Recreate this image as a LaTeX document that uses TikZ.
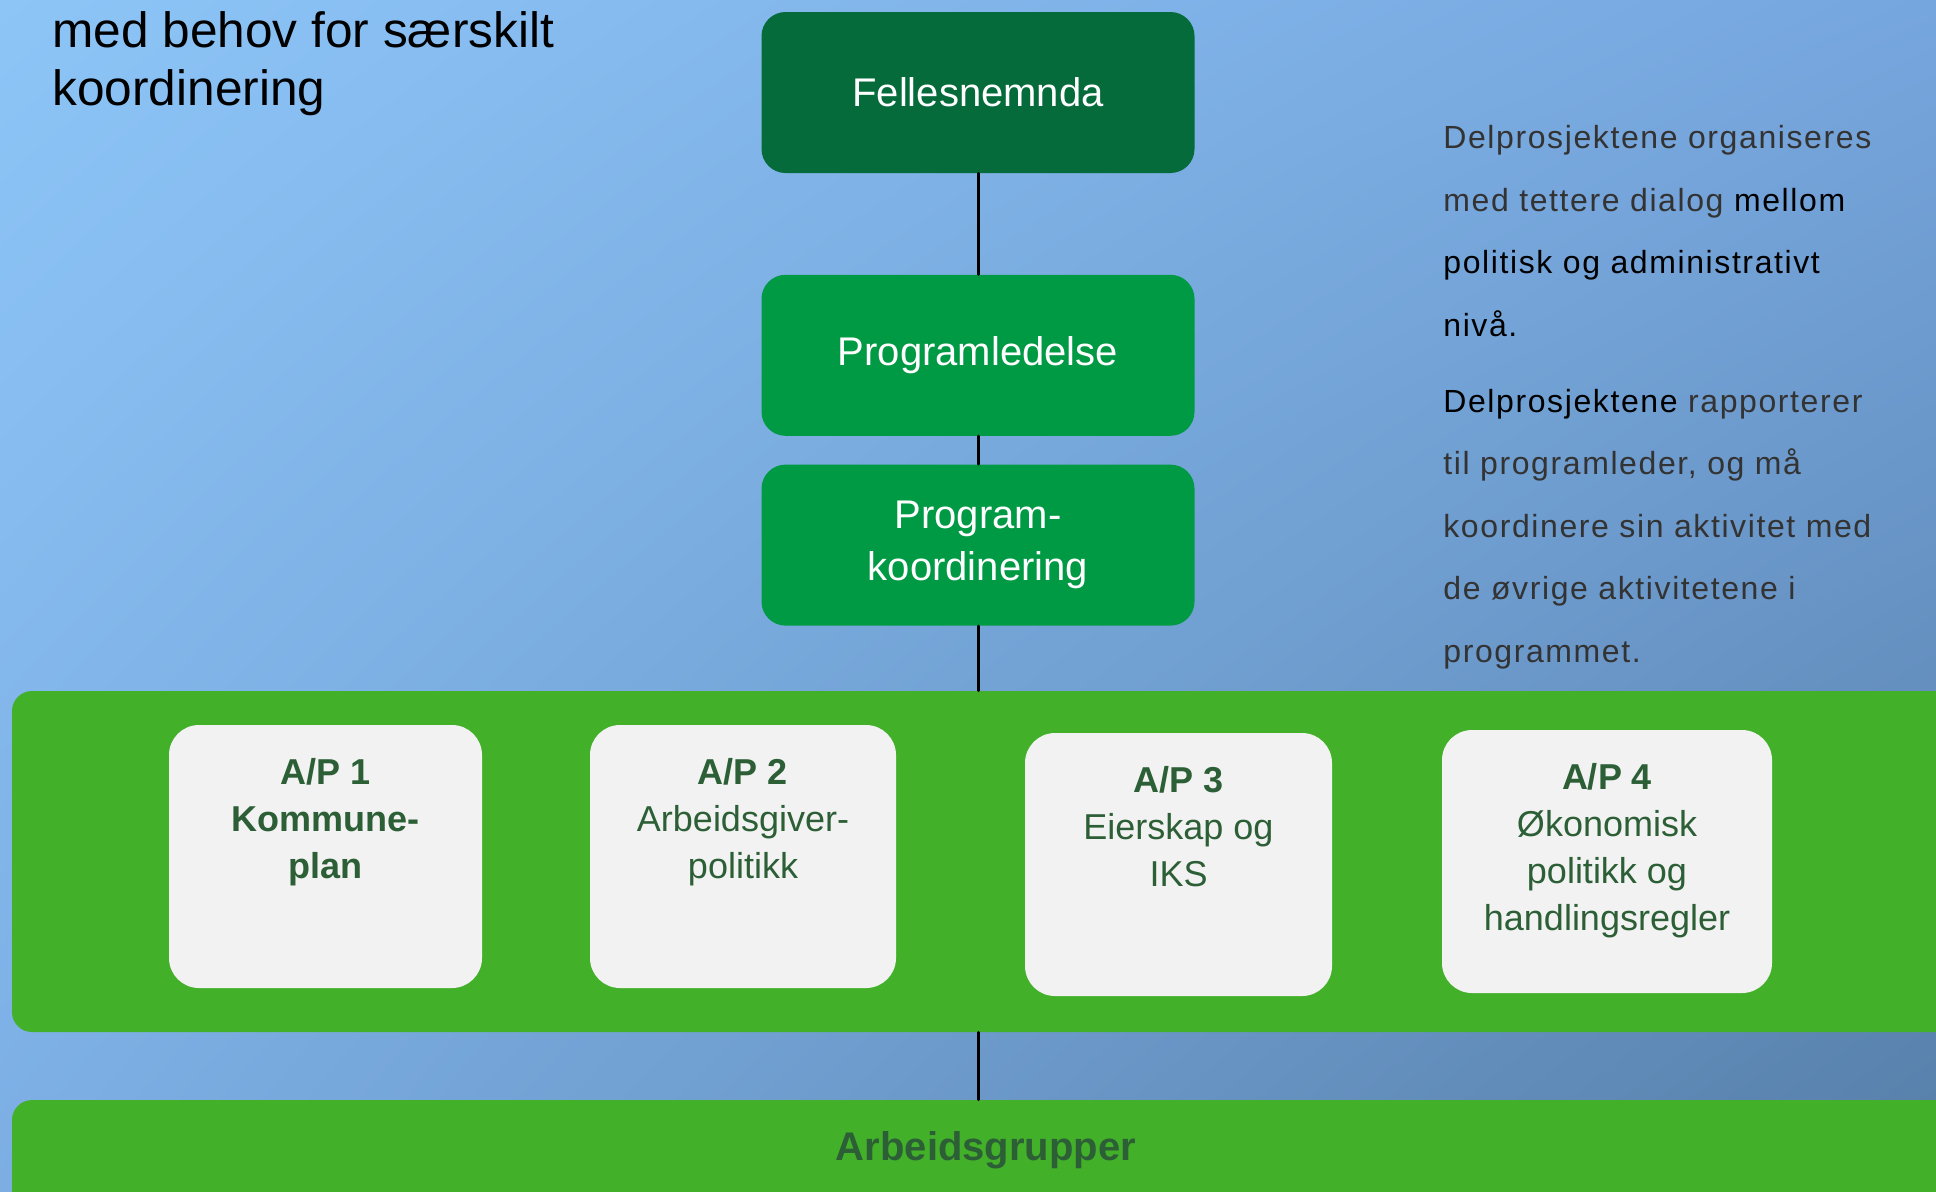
\documentclass[tikz,border=0pt]{standalone}
\usepackage{fontspec}
\setmainfont{Liberation Sans}
\newfontfamily\notefont[LetterSpace=5]{Liberation Sans}
\usetikzlibrary{positioning,shadings}
\definecolor{bgtl}{RGB}{141,197,247}
\definecolor{bgtr}{RGB}{118,166,222}
\definecolor{bgbl}{RGB}{124,174,228}
\definecolor{bgbr}{RGB}{86,126,168}
\definecolor{fellgreen}{RGB}{5,107,58}
\definecolor{ledgreen}{RGB}{0,154,68}
\definecolor{bandgreen}{RGB}{67,176,42}
\definecolor{boxgrey}{RGB}{242,242,242}
\definecolor{aptext}{RGB}{45,95,55}
\definecolor{notegrey}{RGB}{51,51,51}
\begin{document}
\begin{tikzpicture}[x=0.5pt,y=-0.5pt,line cap=round,
  leadbox/.style={rounded corners=12pt,minimum width=216.5pt,minimum height=80.5pt,
    inner sep=0pt,text=white,align=center,font=\fontsize{20}{26}\selectfont},
  apbox/.style={fill=boxgrey,rounded corners=15pt,inner sep=0pt,text=aptext,
    font=\fontsize{18}{23.5}\selectfont},
  band/.style={fill=bandgreen,rounded corners=10pt,minimum width=974pt,inner sep=0pt},
  link/.style={line width=1.5pt}]
  \useasboundingbox (0,0) rectangle (1936,1191);
  \clip (0,0) rectangle (1936,1191);
  \shade[upper left=bgtl,upper right=bgtr,lower left=bgbl,lower right=bgbr]
    (0,0) rectangle (1936,1191);
  % heading, top left
  \node[anchor=north west,inner sep=0pt,align=left,font=\fontsize{24.8}{29}\selectfont]
    (head) at (52,11) {med behov for særskilt\\koordinering};
  % leadership column
  \node[leadbox,fill=fellgreen] (fell) at (978,92.5) {Fellesnemnda};
  \node[leadbox,fill=ledgreen,below=50.5pt of fell] (ledelse) {Programledelse};
  \node[leadbox,fill=ledgreen,below=14pt of ledelse] (koord) {Program-\\koordinering};
  % note on the right
  \node[anchor=north west,inner sep=0pt,align=left,text=notegrey,
    font=\notefont\fontsize{16}{31.25}\selectfont] (note) at (1443,125)
    {Delprosjektene organiseres\\
     med tettere dialog \textcolor{black}{mellom}\\
     \textcolor{black}{politisk og administrativt}\\
     \textcolor{black}{nivå.}\\[6.75pt]
     \textcolor{black}{Delprosjektene} rapporterer\\
     til programleder, og må\\
     koordinere sin aktivitet med\\
     de øvrige aktivitetene i\\
     programmet.};
  % sub projects
  \node[band,minimum height=170.5pt] (band) at (986,861.5) {};
  \node[apbox] (ap1) at (325.5,856.5)
    {\parbox[c][131.5pt][t]{156.5pt}{\centering\vspace*{16.5pt}\bfseries
      A/P 1\\Kommune-\\plan}};
  \node[apbox] (ap2) at (743,856.5)
    {\parbox[c][131.5pt][t]{153pt}{\centering\vspace*{16.5pt}
      \textbf{A/P 2}\\Arbeidsgiver-\\politikk}};
  \node[apbox] (ap3) at (1178.5,864.5)
    {\parbox[c][131.5pt][t]{153.5pt}{\centering\vspace*{16.5pt}
      \textbf{A/P 3}\\Eierskap og\\IKS}};
  \node[apbox] (ap4) at (1607,861.5)
    {\parbox[c][131.5pt][t]{165pt}{\centering\vspace*{16.5pt}
      \textbf{A/P 4}\\Økonomisk\\politikk og\\handlingsregler}};
  % working groups
  \node[band,text=aptext,text height=30pt,text depth=40pt,
    font=\fontsize{20}{24}\selectfont\bfseries] (grupper) at (986,1170) {Arbeidsgrupper};
  % connectors
  \draw[link] (fell.south) -- (ledelse.north);
  \draw[link] (ledelse.south) -- (koord.north);
  \draw[link] (koord.south) -- (koord.south |- band.north);
  \draw[link] (koord.south |- band.south) -- (koord.south |- grupper.north);
\end{tikzpicture}
\end{document}
